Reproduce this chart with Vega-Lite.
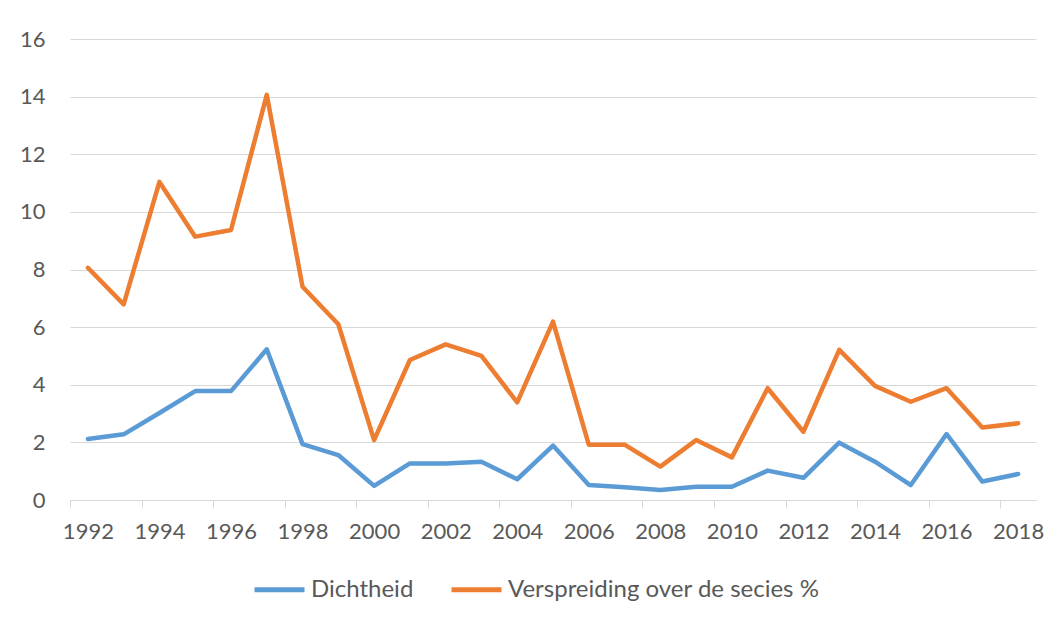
{
  "$schema": "https://vega.github.io/schema/vega-lite/v6.json",
  "width": 966,
  "height": 461,
  "autosize": {"type": "none"},
  "padding": {"left": 70, "top": 39, "right": 22, "bottom": 126},
  "background": "white",
  "config": {
    "view": {"stroke": null},
    "font": "Lato",
    "axis": {"labelFont": "Lato", "labelColor": "#595959", "labelFontSize": 22}
  },
  "data": {
    "values": [
      {"year": 1992, "series": "Dichtheid", "value": 2.12},
      {"year": 1993, "series": "Dichtheid", "value": 2.28},
      {"year": 1994, "series": "Dichtheid", "value": 3.02},
      {"year": 1995, "series": "Dichtheid", "value": 3.78},
      {"year": 1996, "series": "Dichtheid", "value": 3.78},
      {"year": 1997, "series": "Dichtheid", "value": 5.23},
      {"year": 1998, "series": "Dichtheid", "value": 1.94},
      {"year": 1999, "series": "Dichtheid", "value": 1.56},
      {"year": 2000, "series": "Dichtheid", "value": 0.49},
      {"year": 2001, "series": "Dichtheid", "value": 1.27},
      {"year": 2002, "series": "Dichtheid", "value": 1.27},
      {"year": 2003, "series": "Dichtheid", "value": 1.33},
      {"year": 2004, "series": "Dichtheid", "value": 0.72},
      {"year": 2005, "series": "Dichtheid", "value": 1.89},
      {"year": 2006, "series": "Dichtheid", "value": 0.52},
      {"year": 2007, "series": "Dichtheid", "value": 0.44},
      {"year": 2008, "series": "Dichtheid", "value": 0.35},
      {"year": 2009, "series": "Dichtheid", "value": 0.46},
      {"year": 2010, "series": "Dichtheid", "value": 0.46},
      {"year": 2011, "series": "Dichtheid", "value": 1.02},
      {"year": 2012, "series": "Dichtheid", "value": 0.77},
      {"year": 2013, "series": "Dichtheid", "value": 1.99},
      {"year": 2014, "series": "Dichtheid", "value": 1.33},
      {"year": 2015, "series": "Dichtheid", "value": 0.52},
      {"year": 2016, "series": "Dichtheid", "value": 2.29},
      {"year": 2017, "series": "Dichtheid", "value": 0.64},
      {"year": 2018, "series": "Dichtheid", "value": 0.9},
      {"year": 1992, "series": "Verspreiding over de secies %", "value": 8.06},
      {"year": 1993, "series": "Verspreiding over de secies %", "value": 6.79},
      {"year": 1994, "series": "Verspreiding over de secies %", "value": 11.04},
      {"year": 1995, "series": "Verspreiding over de secies %", "value": 9.14},
      {"year": 1996, "series": "Verspreiding over de secies %", "value": 9.37},
      {"year": 1997, "series": "Verspreiding over de secies %", "value": 14.06},
      {"year": 1998, "series": "Verspreiding over de secies %", "value": 7.4},
      {"year": 1999, "series": "Verspreiding over de secies %", "value": 6.1},
      {"year": 2000, "series": "Verspreiding over de secies %", "value": 2.08},
      {"year": 2001, "series": "Verspreiding over de secies %", "value": 4.86},
      {"year": 2002, "series": "Verspreiding over de secies %", "value": 5.4},
      {"year": 2003, "series": "Verspreiding over de secies %", "value": 5.0},
      {"year": 2004, "series": "Verspreiding over de secies %", "value": 3.39},
      {"year": 2005, "series": "Verspreiding over de secies %", "value": 6.19},
      {"year": 2006, "series": "Verspreiding over de secies %", "value": 1.92},
      {"year": 2007, "series": "Verspreiding over de secies %", "value": 1.92},
      {"year": 2008, "series": "Verspreiding over de secies %", "value": 1.16},
      {"year": 2009, "series": "Verspreiding over de secies %", "value": 2.08},
      {"year": 2010, "series": "Verspreiding over de secies %", "value": 1.48},
      {"year": 2011, "series": "Verspreiding over de secies %", "value": 3.88},
      {"year": 2012, "series": "Verspreiding over de secies %", "value": 2.37},
      {"year": 2013, "series": "Verspreiding over de secies %", "value": 5.21},
      {"year": 2014, "series": "Verspreiding over de secies %", "value": 3.96},
      {"year": 2015, "series": "Verspreiding over de secies %", "value": 3.41},
      {"year": 2016, "series": "Verspreiding over de secies %", "value": 3.88},
      {"year": 2017, "series": "Verspreiding over de secies %", "value": 2.52},
      {"year": 2018, "series": "Verspreiding over de secies %", "value": 2.66}
    ]
  },
  "layer": [
    {
      "mark": {"type": "line", "strokeWidth": 4.5, "strokeCap": "round", "strokeJoin": "round"},
      "encoding": {
        "x": {
          "field": "year",
          "type": "quantitative",
          "scale": {"domain": [1991.5, 2018.5], "nice": false, "zero": false},
          "axis": {
            "title": null,
            "orient": "bottom",
            "values": [1991.5, 1993.5, 1995.5, 1997.5, 1999.5, 2001.5, 2003.5, 2005.5, 2007.5, 2009.5, 2011.5, 2013.5, 2015.5, 2017.5],
            "labels": false,
            "grid": false,
            "ticks": true,
            "tickSize": 8,
            "tickColor": "#d9d9d9",
            "tickWidth": 1,
            "domain": true,
            "domainColor": "#d9d9d9",
            "domainWidth": 1
          }
        },
        "y": {
          "field": "value",
          "type": "quantitative",
          "scale": {"domain": [0, 16], "nice": false},
          "axis": {
            "title": null,
            "values": [0, 2, 4, 6, 8, 10, 12, 14, 16],
            "grid": true,
            "gridColor": "#d9d9d9",
            "gridWidth": 1,
            "ticks": false,
            "domain": false,
            "labelPadding": 25
          }
        },
        "color": {
          "field": "series",
          "type": "nominal",
          "scale": {
            "domain": ["Dichtheid", "Verspreiding over de secies %"],
            "range": ["#5B9BD5", "#ED7D31"]
          },
          "legend": {
            "title": null,
            "orient": "none",
            "direction": "horizontal",
            "legendX": 182,
            "legendY": 523,
            "symbolType": "stroke",
            "symbolSize": 2500,
            "symbolStrokeWidth": 5,
            "labelFont": "Lato",
            "labelFontSize": 24,
            "labelColor": "#595959",
            "labelOffset": 4,
            "labelLimit": 500,
            "columnPadding": 27
          }
        }
      }
    },
    {
      "mark": {"type": "line", "opacity": 0},
      "encoding": {
        "x": {
          "field": "year",
          "type": "quantitative",
          "axis": {
            "title": null,
            "orient": "bottom",
            "values": [1992, 1994, 1996, 1998, 2000, 2002, 2004, 2006, 2008, 2010, 2012, 2014, 2016, 2018],
            "format": "d",
            "ticks": false,
            "domain": false,
            "grid": false,
            "labelPadding": 21,
            "labelFlush": false,
            "labelOverlap": false
          }
        },
        "y": {"field": "value", "type": "quantitative"},
        "detail": {"field": "series"}
      }
    }
  ],
  "resolve": {"axis": {"x": "independent"}}
}
